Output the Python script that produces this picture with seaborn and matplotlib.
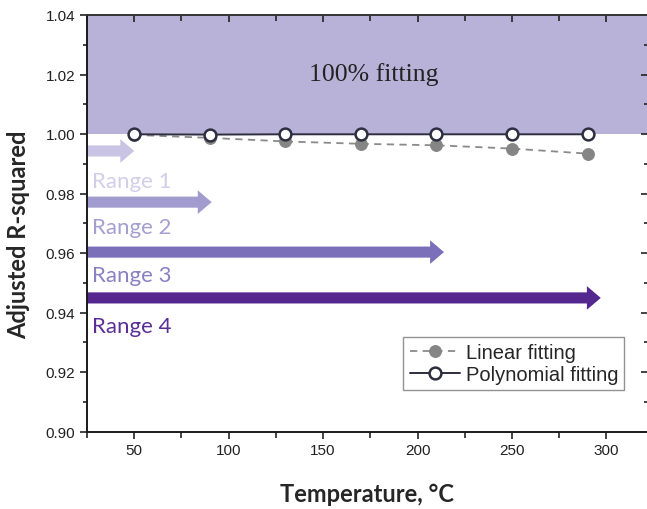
import matplotlib
matplotlib.use("Agg")
import matplotlib.pyplot as plt
import seaborn as sns
import pandas as pd
from matplotlib.ticker import MultipleLocator

# ---- data ----
temperature = [50, 90, 130, 170, 210, 250, 290]
linear_fit = [0.9997, 0.9987, 0.9975, 0.9967, 0.9962, 0.9951, 0.9934]
poly_fit = [0.9999, 0.9998, 0.9999, 0.9999, 0.9999, 0.9999, 0.9999]

range_labels = ["Range 1", "Range 2", "Range 3", "Range 4"]
range_end = [50, 91, 214, 297]
range_arrow_y = [0.9943, 0.9771, 0.9603, 0.9449]
range_label_y = [0.9843, 0.9689, 0.9527, 0.9356]
range_arrow_colors = ["#c9c4e4", "#a29bcf", "#7b6fba", "#55288f"]
range_text_colors = ["#d2cee9", "#a49ed1", "#8a80c4", "#5b2e97"]

fit_band = (1.00, 1.04)
x_ticks = [50, 100, 150, 200, 250, 300]
y_ticks = [0.90, 0.92, 0.94, 0.96, 0.98, 1.00, 1.02, 1.04]

sns.set_style("white")
plt.rcParams["font.family"] = ["Liberation Sans", "DejaVu Sans"]

fig = plt.figure(figsize=(6.47, 5.10), dpi=100)
ax = fig.add_axes([87 / 647, 1 - 432.5 / 510, (648 - 87) / 647, (432.5 - 16) / 510])

xmin, xmax = 25, 322
ax.set_xlim(xmin, xmax)
ax.set_ylim(0.90, 1.04)

# shaded 100% band
ax.axhspan(fit_band[0], fit_band[1], color="#b8b2d8", zorder=0, lw=0)
ax.text(177, 1.0205, "100% fitting", family="Liberation Serif", fontsize=18.5,
        ha="center", va="center", color="#222222")

# arrows + labels
for lab, xe, ya, yl, ca, ct in zip(range_labels, range_end, range_arrow_y,
                                    range_label_y, range_arrow_colors, range_text_colors):
    ax.annotate("", xy=(xe, ya), xytext=(xmin, ya),
                arrowprops=dict(arrowstyle="simple,head_width=17,head_length=10,tail_width=8",
                                mutation_scale=1, color=ca, lw=0, shrinkA=0, shrinkB=0),
                zorder=2)
    ax.text(27.5, yl, lab, family=["Lato", "DejaVu Sans"], fontsize=16, color=ct,
            ha="left", va="center")

df = pd.DataFrame({"T": temperature, "lin": linear_fit, "poly": poly_fit})
sns.lineplot(data=df, x="T", y="lin", ax=ax, color="#8a8a8a", linestyle=(0, (4, 3)),
             lw=1.3, marker="o", markersize=8.5, markerfacecolor="#858585",
             markeredgecolor="#858585", label="Linear fitting", zorder=3)
sns.lineplot(data=df, x="T", y="poly", ax=ax, color="#2e2e40", linestyle="-",
             lw=1.4, marker="o", markersize=8.5, markerfacecolor="white",
             markeredgecolor="#2e2e40", markeredgewidth=1.8,
             label="Polynomial fitting", zorder=4)

# ticks
ax.set_xticks(x_ticks)
ax.set_yticks(y_ticks)
ax.set_yticklabels([f"{v:.2f}" for v in y_ticks])
ax.xaxis.set_minor_locator(MultipleLocator(25))
ax.yaxis.set_minor_locator(MultipleLocator(0.01))
ax.tick_params(axis="both", which="both", labelsize=11, labelcolor="#222222",
               colors="#222222")
ax.tick_params(axis="x", which="both", bottom=True, top=True, direction="out",
               length=5, width=1.2)
ax.tick_params(axis="y", which="both", left=True, right=True, direction="out",
               length=5, width=1.2)
ax.tick_params(axis="y", which="minor", length=3)
ax.tick_params(axis="x", which="minor", length=4)
# top ticks point inward, right ticks point inward
for t in ax.xaxis.get_major_ticks() + ax.xaxis.get_minor_ticks():
    t.tick2line.set_marker(3)
for t in ax.yaxis.get_major_ticks() + ax.yaxis.get_minor_ticks():
    t.tick2line.set_marker(0)

for s in ["left", "bottom", "top", "right"]:
    ax.spines[s].set_visible(True)
    ax.spines[s].set_color("#1a1a1a")
    ax.spines[s].set_linewidth(1.4)
ax.spines["top"].set_color("#333333")

ax.set_xlabel("Temperature, °C", family=["Lato", "DejaVu Sans"], fontweight="bold",
              fontsize=17, labelpad=18)
ax.set_ylabel("Adjusted R-squared", family=["Lato", "DejaVu Sans"], fontweight="bold",
              fontsize=17)
ax.yaxis.set_label_coords(-0.102, 0.474)

leg = ax.legend(loc="upper right", bbox_to_anchor=(0.958, 0.226), fontsize=14.5,
                frameon=True, fancybox=False, edgecolor="#777777", handlelength=2.5,
                borderpad=0.3, labelspacing=0.15, handletextpad=0.3, borderaxespad=0)
leg.get_frame().set_linewidth(1.0)

fig.savefig("out.png", dpi=100)
